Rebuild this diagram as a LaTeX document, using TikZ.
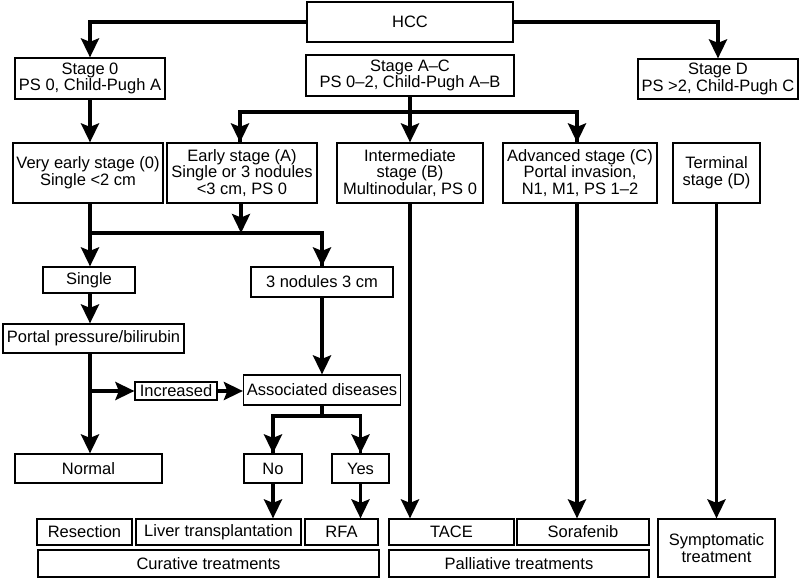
\documentclass[tikz,border=0pt]{standalone}
\usepackage{fontspec}
\setmainfont{Liberation Sans}
\usetikzlibrary{arrows.meta, positioning}

\tikzset{
  box/.style={draw, line width=1.2pt, align=center, inner sep=0pt,
    font=\fontsize{16.5}{16.8}\selectfont},
  link/.style={line width=3.6pt},
  arr/.style={link, -{Stealth[length=19pt,width=18pt,inset=3.5pt]}}
}

\begin{document}
\begin{tikzpicture}[x=1pt,y=-1pt]
  \useasboundingbox (0,0) rectangle (800,579);
  % stages
  \node[box, minimum width=206pt, minimum height=40pt] (hcc) at (410,22) {HCC};
  \node[box, minimum width=150pt, minimum height=41pt] (st0) at (90,78.5) {Stage 0\\PS 0, Child-Pugh A};
  \node[box, minimum width=208pt, minimum height=41pt] (stAC) at (410,75.5) {Stage A--C\\PS 0--2, Child-Pugh A--B};
  \node[box, minimum width=160pt, minimum height=40pt] (stD) at (718,79) {Stage D\\PS >2, Child-Pugh C};
  \node[box, minimum width=150pt, minimum height=60pt] (vearly) at (88,173) {Very early stage (0)\\Single <2 cm};
  \node[box, minimum width=150pt, minimum height=60pt] (early) at (242,173) {Early stage (A)\\Single or 3 nodules\\<3 cm, PS 0};
  \node[box, minimum width=146pt, minimum height=60pt] (inter) at (410,173) {Intermediate\\stage (B)\\Multinodular, PS 0};
  \node[box, minimum width=154pt, minimum height=60pt] (adv) at (580,173) {Advanced stage (C)\\Portal invasion,\\N1, M1, PS 1--2};
  \node[box, minimum width=87pt, minimum height=60pt] (term) at (716.5,173) {Terminal\\stage (D)};
  % decisions
  \node[box, minimum width=92pt, minimum height=26pt] (single) at (89,280) {Single};
  \node[box, minimum width=142pt, minimum height=30pt] (nod3) at (322,282) {3 nodules 3 cm};
  \node[box, minimum width=181pt, minimum height=29pt] (portal) at (93.5,338.5) {Portal pressure/bilirubin};
  \node[box, minimum width=82pt, minimum height=18pt] (inc) at (176,391) {Increased};
  \node[box, minimum width=157pt, minimum height=30pt] (assoc) at (322,390) {Associated diseases};
  \node[box, minimum width=147pt, minimum height=29pt] (normal) at (88.5,468.5) {Normal};
  \node[box, minimum width=58pt, minimum height=29pt] (no) at (273,468.5) {No};
  \node[box, minimum width=57pt, minimum height=29pt] (yes) at (360.5,468.5) {Yes};
  % treatments
  \node[box, minimum width=95pt, minimum height=26pt] (resec) at (84.5,532) {Resection};
  \node[box, minimum width=165pt, minimum height=26pt] (liver) at (218.5,532) {Liver transplantation};
  \node[box, minimum width=73pt, minimum height=26pt] (rfa) at (341.5,532) {RFA};
  \node[box, minimum width=341pt, minimum height=27pt] (cur) at (208.5,563.5) {Curative treatments};
  \node[box, minimum width=125pt, minimum height=26pt] (tace) at (451.5,532) {TACE};
  \node[box, minimum width=132pt, minimum height=26pt] (sora) at (583,532) {Sorafenib};
  \node[box, minimum width=260pt, minimum height=27pt] (pall) at (519,563.5) {Palliative treatments};
  \node[box, minimum width=117pt, minimum height=58pt] (symp) at (716.5,548) {Symptomatic\\treatment};

  \coordinate (jAC) at (410,112);
  \coordinate (j0) at (90,233);
  \coordinate (jinc) at (90,391);
  \coordinate (jyn) at (322,416);

  \draw[arr] (hcc.west) -| (st0.north);
  \draw[arr] (hcc.east) -| (stD.north);
  \draw[arr] (st0.south) -- (st0.south |- vearly.north);
  \draw[link] (stAC.south) -- (jAC);
  \draw[arr] (jAC) -- (inter.north);
  \draw[link] (jAC) -| ([xshift=-2pt]early.north);
  \draw[arr] ([xshift=-2pt]early.north |- jAC) -- ([xshift=-2pt]early.north);
  \draw[link] (jAC) -| ([xshift=-3pt]adv.north);
  \draw[arr] ([xshift=-3pt]adv.north |- jAC) -- ([xshift=-3pt]adv.north);

  \draw[link] (vearly.south -| j0) -- (j0);
  \draw[arr] (j0) -- (single.north -| j0);
  \draw[link] (j0) -| (nod3.north);
  \draw[arr] (nod3.north |- j0) -- (nod3.north);
  \draw[arr] ([xshift=-1pt]early.south) -- ([xshift=-1pt]early.south |- j0);
  \draw[arr] (single.south -| j0) -- (portal.north -| j0);
  \draw[arr] (portal.south -| j0) -- (normal.north -| j0);
  \draw[arr] (jinc) -- (inc.west);
  \draw[arr] (inc.east) -- (assoc.west |- inc.east);
  \draw[arr] (nod3.south) -- (assoc.north);
  \draw[link] (assoc.south) -- (jyn);
  \draw[link] (jyn) -| (no.north);
  \draw[arr] (no.north |- jyn) -- (no.north);
  \draw[link] (jyn) -| (yes.north);
  \draw[arr] (yes.north |- jyn) -- (yes.north);
  \draw[arr] (no.south) -- (no.south |- liver.north);
  \draw[arr] (yes.south) -- (yes.south |- rfa.north);
  \draw[arr] (inter.south) -- (inter.south |- tace.north);
  \draw[arr] ([xshift=-3pt]adv.south) -- ([xshift=-3pt]adv.south |- sora.north);
  \draw[arr] (term.south) -- (symp.north);
\end{tikzpicture}
\end{document}
